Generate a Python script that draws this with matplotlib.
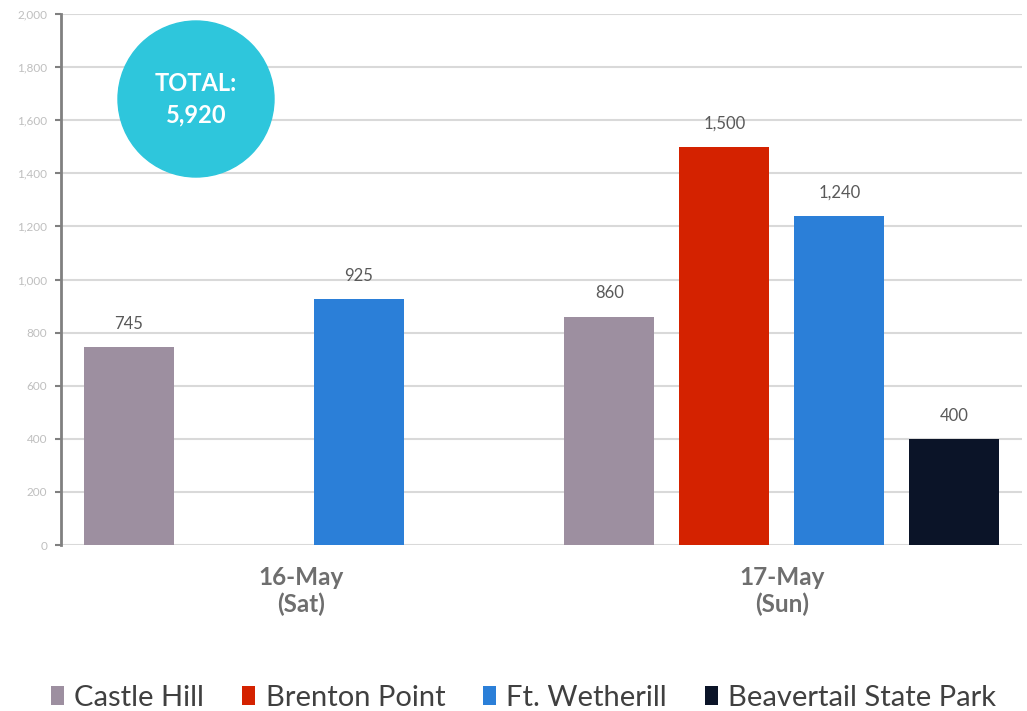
import numpy as np
import matplotlib
matplotlib.use("Agg")
import matplotlib.pyplot as plt
from matplotlib.patches import Ellipse

categories = ["16-May\n(Sat)", "17-May\n(Sun)"]
series = ["Castle Hill", "Brenton Point", "Ft. Wetherill", "Beavertail State Park"]
castle_hill = [745, 860]
brenton_point = [np.nan, 1500]
ft_wetherill = [925, 1240]
beavertail = [np.nan, 400]
total_label = "TOTAL:\n5,920"
yticks = list(range(0, 2001, 200))

colors = ["#9D8FA0", "#D42200", "#2B7FD8", "#0B1428"]
values = [castle_hill, brenton_point, ft_wetherill, beavertail]

plt.rcParams['font.family'] = ['Lato', 'DejaVu Sans']

fig = plt.figure(figsize=(10.27, 7.11), dpi=100)
ax = fig.add_axes([61/1027, 1-545/711, (1022-61)/1027, (545-14)/711])

x = np.arange(len(categories))
slot = 115/480.5
width = 90/480.5
for i, (name, vals, c) in enumerate(zip(series, values, colors)):
    pos = x + (i - 1.5) * slot
    ax.bar(pos, vals, width=width, color=c, label=name, zorder=3)
    for p, v in zip(pos, vals):
        if not np.isnan(v):
            ax.annotate(f"{v:,.0f}", (p, v), xytext=(0, 11), textcoords="offset points",
                        ha="center", va="bottom", color="#595959", fontsize=12)

ax.set_xlim(-0.5, 1.5)
ax.set_ylim(0, 2000)
ax.set_yticks(yticks)
ax.set_yticklabels([f"{t:,}" for t in yticks], color="#BFBFBF", fontsize=8.5)
ax.yaxis.grid(True, color="#D9D9D9", linewidth=1.5, zorder=0)
ax.set_axisbelow(True)
for s in ["top", "right", "bottom"]:
    ax.spines[s].set_visible(False)
ax.spines["left"].set_color("#808080")
ax.spines["left"].set_linewidth(2)
ax.tick_params(axis="y", length=4, width=1.5, color="#808080", pad=6)
ax.set_xticks(x)
ax.set_xticklabels(categories, fontsize=17.5, fontweight="bold", color="#6E6E6E", linespacing=1.2)
ax.tick_params(axis="x", length=0, pad=15)

# total bubble
cx, cy, r = 196, 99, 78
bub = ax.inset_axes([(cx - r - 61)/961, (545 - cy - r)/531, 2*r/961, 2*r/531])
bub.set_xlim(-1, 1); bub.set_ylim(-1, 1); bub.axis("off")
bub.add_patch(Ellipse((0, 0), 2, 2, color="#2EC6DC", clip_on=False))
bub.text(0, 0.0, total_label, ha="center", va="center", color="white",
         fontsize=17, fontweight="bold", linespacing=1.45)

fig.legend(loc="center", bbox_to_anchor=(0.51, 1-698/711), ncol=4, frameon=False,
           fontsize=21, handlelength=0.45, handleheight=0.6, handletextpad=0.35,
           columnspacing=1.3, labelcolor="#404040")

fig.savefig("out.png", dpi=100)
